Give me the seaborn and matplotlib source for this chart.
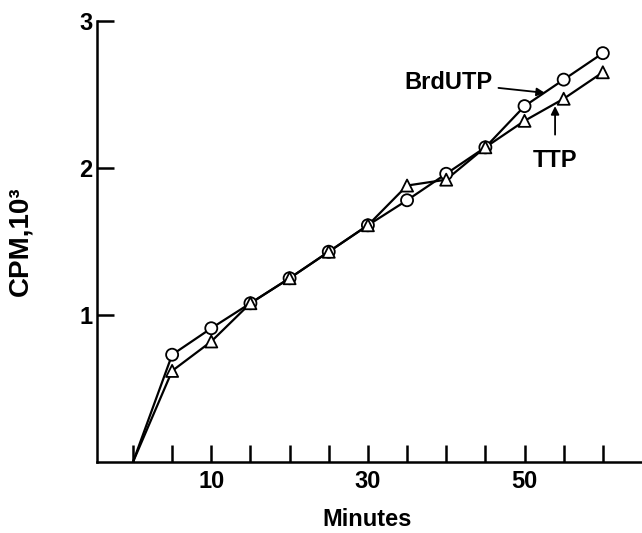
import matplotlib
matplotlib.use("Agg")
import matplotlib.pyplot as plt
import seaborn as sns
import pandas as pd

minutes = [0, 5, 10, 15, 20, 25, 30, 35, 40, 45, 50, 55, 60]
brdutp = [0, 0.73, 0.91, 1.08, 1.25, 1.43, 1.61, 1.78, 1.96, 2.14, 2.42, 2.60, 2.78]
ttp = [0, 0.62, 0.82, 1.08, 1.25, 1.43, 1.61, 1.88, 1.92, 2.14, 2.32, 2.47, 2.65]
x_tick_labels = ["10", "30", "50"]
y_tick_labels = ["1", "2", "3"]

sns.set_theme(style="white")
plt.rcParams['font.family'] = ['Liberation Sans', 'DejaVu Sans']
plt.rcParams['font.weight'] = 'bold'
plt.rcParams['axes.labelweight'] = 'bold'

df = pd.concat([
    pd.DataFrame({"Minutes": minutes, "CPM": brdutp, "series": "BrdUTP"}),
    pd.DataFrame({"Minutes": minutes, "CPM": ttp, "series": "TTP"}),
])
pts = df[df["Minutes"] > 0]

fig = plt.figure(figsize=(6.42, 5.33), dpi=100)
ax = fig.add_axes([0.151, 0.133, 0.849, 0.828])

sns.lineplot(data=df, x="Minutes", y="CPM", units="series", estimator=None,
             color="black", linewidth=1.6, ax=ax, legend=False)
sns.scatterplot(data=pts, x="Minutes", y="CPM", style="series",
                markers={"BrdUTP": "o", "TTP": "^"}, s=75,
                facecolor="white", edgecolor="black", linewidth=1.3,
                ax=ax, legend=False, zorder=3)

ax.set_xlim(-4.6, 65)
ax.set_ylim(0, 3)
ax.set_xticks(list(range(0, 61, 5)))
ax.set_xticklabels(["" if m not in (10, 30, 50) else str(m) for m in range(0, 61, 5)])
ax.set_yticks([1, 2, 3])
ax.set_yticklabels(y_tick_labels)
ax.tick_params(axis="both", direction="in", length=12, width=1.8, color="black",
               labelsize=17, labelcolor="black", bottom=True, left=True)
ax.tick_params(axis="x", pad=5.5)
ax.tick_params(axis="y", pad=3)

for s in ["top", "right"]:
    ax.spines[s].set_visible(False)
for s in ["left", "bottom"]:
    ax.spines[s].set_color("black")
    ax.spines[s].set_linewidth(1.8)

ax.set_xlabel("Minutes", fontsize=17, color="black", fontweight="bold")
ax.xaxis.set_label_coords(0.495, -0.105)
ax.set_ylabel("CPM,10³", fontsize=20, color="black", fontweight="bold")
ax.yaxis.set_label_coords(-0.117, 0.50)

ax.annotate("BrdUTP", xy=(52.6, 2.51), xytext=(45.9, 2.58),
            ha="right", va="center", fontsize=17, color="black", fontweight="bold",
            arrowprops=dict(arrowstyle="-|>", color="black", lw=1.3,
                            shrinkA=2, shrinkB=0, mutation_scale=12))
ax.annotate("TTP", xy=(53.9, 2.42), xytext=(53.9, 2.05),
            ha="center", va="center", fontsize=17, color="black", fontweight="bold",
            arrowprops=dict(arrowstyle="-|>", color="black", lw=1.3,
                            shrinkA=8, shrinkB=0, mutation_scale=12))

fig.savefig("out.png", dpi=100)
